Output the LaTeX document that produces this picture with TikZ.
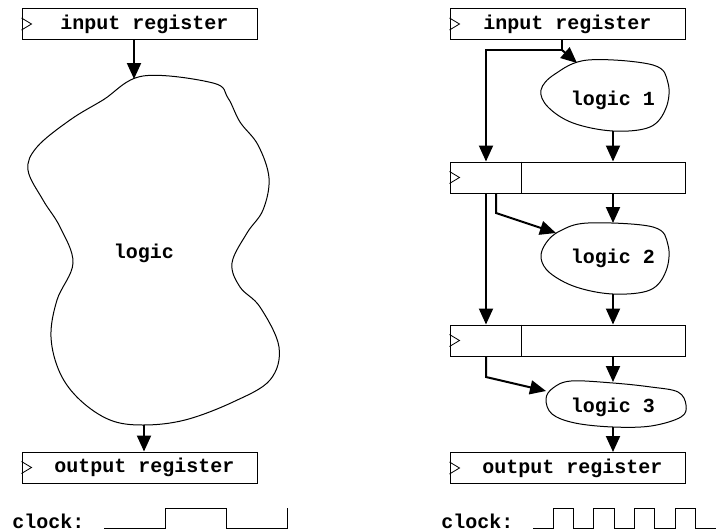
\documentclass[tikz,border=0pt]{standalone}
\usepackage{fontspec}
\setmonofont{Liberation Mono}
\usetikzlibrary{arrows.meta}

\begin{document}
\begin{tikzpicture}[x=0.5pt, y=-0.5pt, >={Triangle[length=8pt,width=7pt]},
	reg/.style={draw, line width=0.5pt, minimum width=117.5pt, minimum height=15.5pt, inner sep=0pt, font=\ttfamily\bfseries},
	txt/.style={font=\ttfamily\bfseries, inner sep=0pt},
	wire/.style={->, line width=1pt},
	thin/.style={line width=0.5pt}]
	\useasboundingbox (0,0) rectangle (718,531);

	% left: one big block of logic
	\node[reg] (inL) at (139.5,24) {\hspace*{5pt}input register};
	\node[reg] (outL) at (139.5,467.5) {\hspace*{5pt}output register};
	\draw[thin] plot[smooth cycle, tension=0.6] coordinates {(143,76) (213,83) (228,98) (240,122) (258,145) (269,178) (263,210) (247,233) (232,263) (240,287) (260,307) (279,347) (270,380) (233,402) (185,420) (143,425) (110,420) (80,400) (60,373) (51,337) (57,300) (73,263) (60,227) (43,200) (28,170) (37,147) (70,120) (103,100)};
	\node[txt] (lg) at (144,253) {logic};
	\coordinate (lgin) at (134,79);
	\coordinate (lgout) at (144,425);

	% right: pipelined logic
	\node[reg] (inR) at (567.5,24) {input register};
	\node[reg] (r1) at (567.5,177.5) {};
	\node[reg] (r2) at (567.5,340.5) {};
	\node[reg] (outR) at (567.5,468) {\hspace*{5pt}output register};
	\draw[thin] plot[smooth cycle, tension=0.6] coordinates {(588,60) (653,65) (668,83) (666,108) (650,127) (613,131) (573,123) (548,107) (541,90) (555,74)};
	\node[txt] (l1) at (613,100) {logic 1};
	\draw[thin] plot[smooth cycle, tension=0.6] coordinates {(588,223) (653,227) (668,245) (666,271) (650,290) (613,294) (576,287) (550,273) (541,258) (546,243) (560,231)};
	\node[txt] (l2) at (613,258) {logic 2};
	\draw[thin] plot[smooth cycle, tension=0.6] coordinates {(571,381) (613,383) (651,387) (678,392) (686,405) (681,417) (651,426) (613,427) (575,423) (552,414) (546,399) (553,388)};
	\node[txt] (l3) at (613,407) {logic 3};
	\coordinate (l1in) at (577,63);
	\coordinate (l1out) at (613,131);
	\coordinate (l2in) at (556,233);
	\coordinate (l2top) at (613,223);
	\coordinate (l2out) at (613,294);
	\coordinate (l3in) at (546,391);
	\coordinate (l3top) at (613,382);
	\coordinate (l3out) at (613,427);
	\coordinate (split) at (562,50);
	\coordinate (busA) at (486,50);
	\coordinate (busB) at (496,213);
	\coordinate (busC) at (486,377);

	% clock marks and dividers
	\foreach \r in {inL,outL,inR,r1,r2,outR}
		\draw[line width=0.4pt] (\r.west) ++(0,-6) -- ++(10,6) -- ++(-10,6);
	\foreach \r in {r1,r2}
		\draw[thin] ([xshift=36pt]\r.north west) -- ([xshift=36pt]\r.south west);

	% connectors
	\draw[wire] (lgin |- inL.south) -- (lgin);
	\draw[wire] (lgout) -- (lgout |- outL.north);
	\draw[line width=1pt] (split |- inR.south) -- (split);
	\draw[wire] (split) -- (busA) -- (busA |- r1.north);
	\draw[wire] (split) -- (l1in);
	\draw[wire] (l1out) -- (l1out |- r1.north);
	\draw[wire] (busA |- r1.south) -- (busA |- r2.north);
	\draw[wire] (busB |- r1.south) -- (busB) -- (l2in);
	\draw[wire] (l2top |- r1.south) -- (l2top);
	\draw[wire] (l2out) -- (l2out |- r2.north);
	\draw[wire] (busC |- r2.south) -- (busC) -- (l3in);
	\draw[wire] (l3top |- r2.south) -- (l3top);
	\draw[wire] (l3out) -- (l3out |- outR.north);

	% clocks
	\node[txt, anchor=base west] (clkL) at (12,528) {clock:};
	\draw[thin] (104,528) -- ++(61,0) -- ++(0,-20) -- ++(61,0) -- ++(0,20) -- ++(61,0) -- ++(0,-20);
	\node[txt, anchor=base west] (clkR) at (441,528) {clock:};
	\draw[thin] (533,528) \foreach \i in {0,...,3} { -- ++(20.33,0) -- ++(0,-20) -- ++(20.33,0) -- ++(0,20) } -- ++(20.33,0);
\end{tikzpicture}
\end{document}
